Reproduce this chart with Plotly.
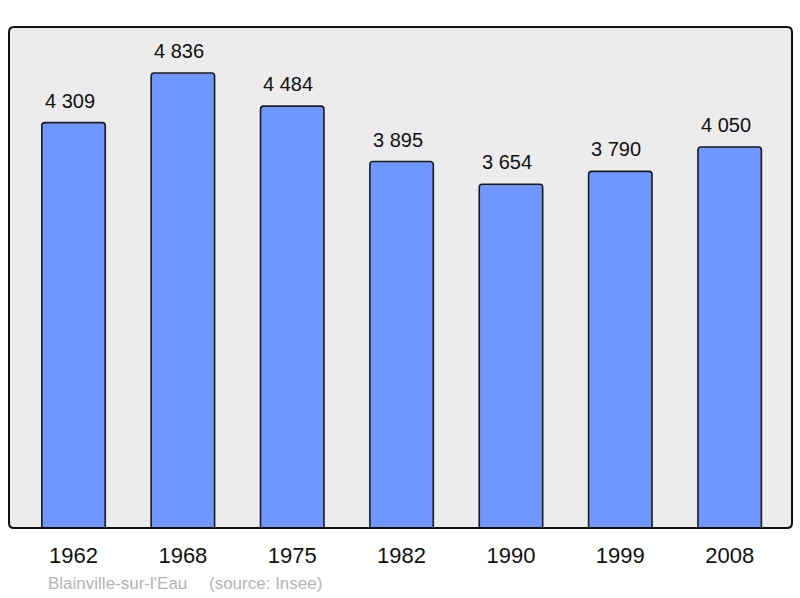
import plotly.graph_objects as go

years = ["1962", "1968", "1975", "1982", "1990", "1999", "2008"]
population = [4309, 4836, 4484, 3895, 3654, 3790, 4050]
value_labels = ["4 309", "4 836", "4 484", "3 895", "3 654", "3 790", "4 050"]
town = "Blainville-sur-l'Eau"
source = "(source: Insee)"

W, H = 800, 598
ml, mr, mt, mb = 9, 8, 27, 70
FONT = "Liberation Sans, Arial, sans-serif"

fig = go.Figure()
fig.add_trace(go.Bar(
    x=list(range(len(years))), y=population, width=0.58,
    marker=dict(color="#7096ff", line=dict(color="#1a1a1a", width=1.6), cornerradius=3),
    hoverinfo="skip",
))
for i, (v, lab) in enumerate(zip(population, value_labels)):
    fig.add_annotation(x=i, y=v, text=lab, showarrow=False, yanchor="bottom",
                       yshift=9, xshift=-4, font=dict(size=20, color="#111", family=FONT))

# rounded border around plot area
pw, ph = W - ml - mr, H - mt - mb
r = 5
rx, ry = r / pw, r / ph
path = (f"M {rx} 0 L {1-rx} 0 Q 1 0 1 {ry} L 1 {1-ry} Q 1 1 {1-rx} 1 "
        f"L {rx} 1 Q 0 1 0 {1-ry} L 0 {ry} Q 0 0 {rx} 0 Z")
fig.add_shape(type="path", xref="paper", yref="paper", path=path,
              line=dict(color="#111", width=2), layer="above")

src_y = -(583 - (H - mb)) / ph
fig.add_annotation(xref="paper", yref="paper", x=(46 - ml) / pw, y=src_y,
                   xanchor="left", yanchor="middle", showarrow=False, text=town,
                   font=dict(size=17, color="#b3b3b3", family=FONT))
fig.add_annotation(xref="paper", yref="paper", x=(207 - ml) / pw, y=src_y,
                   xanchor="left", yanchor="middle", showarrow=False, text=source,
                   font=dict(size=17, color="#b3b3b3", family=FONT))

fig.update_layout(
    width=W, height=H,
    margin=dict(l=ml, r=mr, t=mt, b=mb),
    paper_bgcolor="white", plot_bgcolor="#ececec",
    showlegend=False,
    font=dict(family=FONT, size=22, color="#111"),
    xaxis=dict(tickmode="array", tickvals=list(range(len(years))), ticktext=years,
               range=[-0.59, 6.57], showgrid=False, zeroline=False,
               showline=False, ticks="", ticklabelstandoff=12, fixedrange=True),
    yaxis=dict(range=[0, 5325], showgrid=False, zeroline=False, showticklabels=False,
               showline=False, ticks="", fixedrange=True),
)

fig.write_html("out.html", config={"displayModeBar": False},
               post_script="document.body.style.margin='0';")
